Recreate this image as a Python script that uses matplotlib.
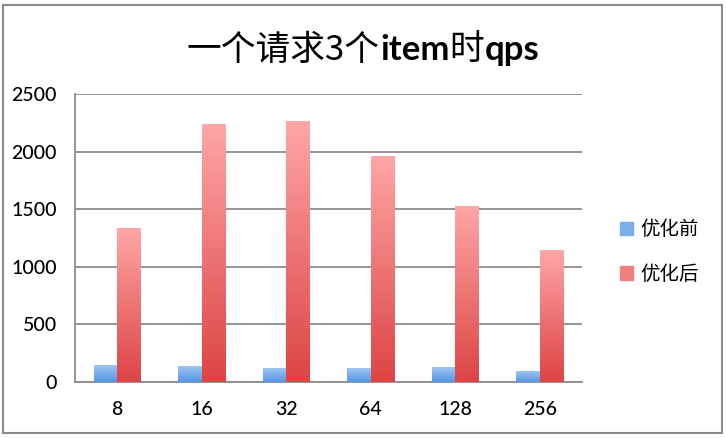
import numpy as np
import matplotlib
matplotlib.use("Agg")
import matplotlib.pyplot as plt
from matplotlib.colors import LinearSegmentedColormap
from matplotlib.patches import Rectangle
from matplotlib.offsetbox import TextArea, HPacker, AnchoredOffsetbox

plt.rcParams['font.family'] = ['Lato', 'Noto Sans CJK SC', 'DejaVu Sans']

categories = ['8', '16', '32', '64', '128', '256']
before = [142, 133, 113, 113, 127, 90]       # 优化前
after = [1335, 2235, 2265, 1960, 1525, 1145]  # 优化后
series_names = ['优化前', '优化后']

blue_cmap = LinearSegmentedColormap.from_list('b', ['#5595e3', '#9ec6f2'])
red_cmap = LinearSegmentedColormap.from_list('r', ['#dd4444', '#ffa6a6'])

fig = plt.figure(figsize=(7.26, 4.38), dpi=100)
ax = fig.add_axes([75 / 726, 1 - 382 / 438, 507 / 726, 288 / 438])

x = np.arange(len(categories))
w = 0.28
b1 = ax.bar(x - w / 2, before, w, color='#7aafea', zorder=2, label=series_names[0])
b2 = ax.bar(x + w / 2, after, w, color='#f07f7f', zorder=2, label=series_names[1])

# vertical gradient on each bar, light at top
grad = np.linspace(0, 1, 256).reshape(-1, 1)
for bars, cmap in [(b1, blue_cmap), (b2, red_cmap)]:
    for p in bars:
        x0 = p.get_x()
        ax.imshow(grad, cmap=cmap, origin='lower', aspect='auto', zorder=3,
                  extent=[x0, x0 + p.get_width(), 0, p.get_height()])

ax.set_xlim(-0.5, len(categories) - 0.5)
ax.set_ylim(0, 2500)
ax.set_yticks([0, 500, 1000, 1500, 2000, 2500])
ax.set_xticks(x)
ax.set_xticklabels(categories)
ax.tick_params(length=0, labelsize=14, colors='black')
ax.tick_params(axis='y', pad=13)
ax.tick_params(axis='x', pad=14)
for lbl in ax.get_xticklabels() + ax.get_yticklabels():
    lbl.set_fontweight('medium')
ax.yaxis.grid(True, color='#8c8c8c', linewidth=1.3, zorder=0)
ax.set_axisbelow(True)
for s in ['top', 'right']:
    ax.spines[s].set_visible(False)
for s in ['left', 'bottom']:
    ax.spines[s].set_color('#8c8c8c')
    ax.spines[s].set_linewidth(1.3)

# title with mixed weights
cjk = ['Noto Sans CJK SC', 'DejaVu Sans']
lat = ['Lato', 'Noto Sans CJK SC']
parts = [('一个请求3个', cjk, 'light'), ('item', lat, 'bold'),
         ('时', cjk, 'light'), ('qps', lat, 'bold')]
areas = [TextArea(t, textprops=dict(family=f, fontweight=fw, fontsize=25, color='black'))
         for t, f, fw in parts]
box = HPacker(children=areas, align='baseline', pad=0, sep=0)
anchored = AnchoredOffsetbox(loc='center', child=box, pad=0, borderpad=0, frameon=False,
                             bbox_to_anchor=(0.5, 1 - 50 / 438), bbox_transform=fig.transFigure)
fig.add_artist(anchored)

# legend
handles = [Rectangle((0, 0), 1, 1, color='#7aafea'), Rectangle((0, 0), 1, 1, color='#f07f7f')]
fig.legend(handles, series_names, loc='center left', bbox_to_anchor=(602 / 726, 1 - 252 / 438),
           frameon=False, prop={'family': cjk, 'size': 14}, handlelength=0.7, handleheight=0.7,
           handletextpad=0.35, labelspacing=1.2)

# chart frame
fig.add_artist(Rectangle((3 / 726, 5 / 438), 719 / 726, 428 / 438, transform=fig.transFigure,
                         fill=False, edgecolor='#8a8a8a', linewidth=1.5))

fig.savefig('out.png', dpi=100)
